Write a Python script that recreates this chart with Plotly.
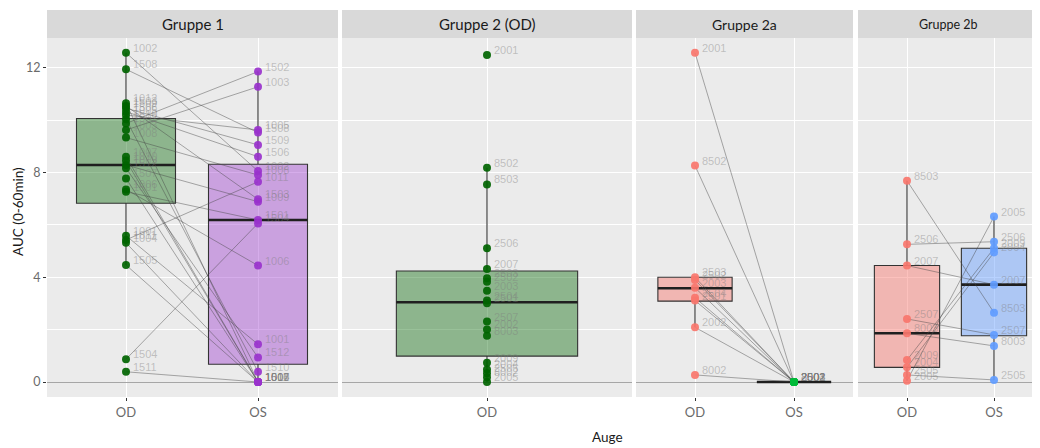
import plotly.graph_objects as go

# ---------------- data ----------------
panel_titles = ["Gruppe 1", "Gruppe 2 (OD)", "Gruppe 2a", "Gruppe 2b"]
eye_labels = ["OD", "OS"]
y_tick_values = [0, 4, 8, 12]
y_minor_values = [2, 6, 10]

# Gruppe 1: paired OD / OS values per subject
g1_ids = ["1002", "1508", "1012", "1503", "1509", "1506", "1005", "1510",
          "1502", "1003", "1008", "1007", "1010", "1009", "1512", "1507",
          "1006", "1501", "1001", "1011", "1004", "1505", "1504", "1511"]
g1_od = [12.58, 11.95, 10.65, 10.55, 10.46, 10.33, 10.20, 10.04,
         9.88, 9.63, 9.34, 8.61, 8.46, 8.29, 8.17, 7.78,
         7.36, 7.27, 5.59, 5.43, 5.32, 4.47, 0.87, 0.39]
g1_os = [8.06, 9.53, 0.00, 6.98, 9.06, 8.61, 9.63, 0.39,
         11.86, 11.28, 7.91, 0.00, 0.00, 6.89, 0.94, 0.00,
         4.45, 6.19, 1.44, 7.65, 0.00, 0.00, 6.06, 0.00]
# box statistics: q1, median, q3, lower whisker end, upper whisker end
g1_od_box = [6.83, 8.29, 10.07, 4.47, 12.58]
g1_os_box = [0.68, 6.19, 8.32, 0.00, 11.86]

# Gruppe 2 (OD only)
g2_ids = ["2001", "8502", "8503", "2506", "2007", "2503", "2502", "2003", "2504",
          "2501", "2507", "2002", "8003", "2009", "2004", "2505", "8002", "2005"]
g2_od = [12.50, 8.19, 7.55, 5.11, 4.32, 3.96, 3.83, 3.49, 3.11,
         3.01, 2.31, 2.01, 1.77, 0.74, 0.48, 0.33, 0.18, 0.00]
g2_od_box = [0.99, 3.05, 4.24, 0.00, 8.19]

# Gruppe 2a: paired OD / OS
g2a_ids = ["2001", "8502", "2503", "2502", "2003", "2504", "2501", "2002", "8002"]
g2a_od = [12.58, 8.27, 4.00, 3.90, 3.60, 3.22, 3.11, 2.09, 0.27]
g2a_os = [0.00, 0.00, 0.00, 0.00, 0.00, 0.00, 0.00, 0.00, 0.00]
g2a_od_box = [3.09, 3.58, 4.00, 2.09, 4.00]
g2a_os_box = [0.00, 0.00, 0.00, 0.00, 0.00]

# Gruppe 2b: paired OD / OS
g2b_ids = ["8503", "2506", "2007", "2507", "8003", "2009", "2004", "2505", "2005"]
g2b_od = [7.69, 5.26, 4.45, 2.41, 1.86, 0.84, 0.56, 0.27, 0.05]
g2b_os = [2.65, 5.36, 3.72, 1.80, 1.38, 5.11, 4.95, 0.08, 6.32]
g2b_od_box = [0.56, 1.86, 4.45, 0.05, 7.69]
g2b_os_box = [1.77, 3.72, 5.11, 0.08, 6.32]

# ---------------- styling / geometry ----------------
PAGE_OFFSET = 8                      # default body margin of the html page
W, H = 1040 - PAGE_OFFSET, 448 - PAGE_OFFSET


def fx(px):
    """screen x pixel -> paper fraction"""
    return (px - PAGE_OFFSET) / W


def fy(py):
    """screen y pixel (from top) -> paper fraction"""
    return (H - (py - PAGE_OFFSET)) / H


PANEL_PX = [(47, 338), (342, 632), (636, 853), (858, 1040)]
CAT0_PX = [126, 487, 695, 907]          # pixel of first category
PX_PER_CAT = [132, 241.7, 99, 87]       # pixels per category step
PLOT_TOP, PLOT_BOTTOM = 38, 397
STRIP_TOP = 10
Y0_PX, PX_PER_UNIT = 382, 26.17
BOX_W = 0.75

DKGREEN = "#006400"
ORCHID = "#9932CC"
RED = "#F8766D"
GREEN = "#00BA38"
BLUE = "#619CFF"

FONT = "Lato"
LABEL_FONT = "Liberation Sans"

y_range = [-(PLOT_BOTTOM - Y0_PX) / PX_PER_UNIT, (Y0_PX - PLOT_TOP) / PX_PER_UNIT]
y_domain = [fy(PLOT_BOTTOM), fy(PLOT_TOP)]

panels = [
    dict(groups=[(0, g1_ids, g1_od, g1_od_box, DKGREEN, "rgba(0,100,0,0.4)"),
                 (1, g1_ids, g1_os, g1_os_box, ORCHID, "rgba(153,50,204,0.4)")],
         pairs=(g1_od, g1_os), ncat=2, strip_size=15, title_center=None),
    dict(groups=[(0, g2_ids, g2_od, g2_od_box, DKGREEN, "rgba(0,100,0,0.4)")],
         pairs=None, ncat=1, strip_size=15, title_center=None),
    dict(groups=[(0, g2a_ids, g2a_od, g2a_od_box, RED, "rgba(248,118,109,0.45)"),
                 (1, g2a_ids, g2a_os, g2a_os_box, GREEN, "rgba(0,186,56,0.4)")],
         pairs=(g2a_od, g2a_os), ncat=2, strip_size=14, title_center=None),
    dict(groups=[(0, g2b_ids, g2b_od, g2b_od_box, RED, "rgba(248,118,109,0.45)"),
                 (1, g2b_ids, g2b_os, g2b_os_box, BLUE, "rgba(97,156,255,0.45)")],
         pairs=(g2b_od, g2b_os), ncat=2, strip_size=12.5, title_center=948),
]

fig = go.Figure()
annotations = []
shapes = []
layout_axes = {}


def axis_names(i):
    return ("x" if i == 1 else f"x{i}"), ("y" if i == 1 else f"y{i}")


# boxes first (drawn beneath scatter layers)
for i, p in enumerate(panels, start=1):
    xa, ya = axis_names(i)
    for cat, ids, vals, box, col, fill in p["groups"]:
        fig.add_trace(go.Box(
            x=[cat], q1=[box[0]], median=[box[1]], q3=[box[2]],
            lowerfence=[box[3]], upperfence=[box[4]],
            width=BOX_W, fillcolor=fill, whiskerwidth=0,
            line=dict(color="#333333", width=1.1),
            xaxis=xa, yaxis=ya, showlegend=False, hoverinfo="skip"))

for i, p in enumerate(panels, start=1):
    xa, ya = axis_names(i)
    # thick median lines
    for cat, ids, vals, box, col, fill in p["groups"]:
        fig.add_trace(go.Scatter(
            x=[cat - BOX_W / 2, cat + BOX_W / 2], y=[box[1], box[1]],
            mode="lines", line=dict(color="#1f1f1f", width=2.6),
            xaxis=xa, yaxis=ya, showlegend=False, hoverinfo="skip"))
    # paired lines
    if p["pairs"] is not None:
        od, os_ = p["pairs"]
        lx, ly = [], []
        for a, b in zip(od, os_):
            lx += [0, 1, None]
            ly += [a, b, None]
        fig.add_trace(go.Scatter(
            x=lx, y=ly, mode="lines",
            line=dict(color="rgba(70,70,70,0.5)", width=0.9),
            xaxis=xa, yaxis=ya, showlegend=False, hoverinfo="skip"))
    # points and labels
    for cat, ids, vals, box, col, fill in p["groups"]:
        fig.add_trace(go.Scatter(
            x=[cat] * len(vals), y=vals, mode="markers",
            marker=dict(color=col, size=8, opacity=0.92),
            xaxis=xa, yaxis=ya, showlegend=False, hoverinfo="skip"))
        for lab, v in zip(ids, vals):
            annotations.append(dict(
                x=cat, y=v, xref=xa, yref=ya, text=lab, showarrow=False,
                xanchor="left", yanchor="middle", xshift=5, yshift=5,
                font=dict(family=LABEL_FONT, size=11, color="rgba(125,125,125,0.42)")))

    # axes
    left, right = PANEL_PX[i - 1]
    c0, ppc = CAT0_PX[i - 1], PX_PER_CAT[i - 1]
    xr = [(left - c0) / ppc, (right - c0) / ppc]
    cats = list(range(p["ncat"]))
    layout_axes["xaxis" if i == 1 else f"xaxis{i}"] = dict(
        domain=[fx(left), fx(right)], range=xr, anchor=ya,
        tickvals=cats, ticktext=eye_labels[:p["ncat"]],
        showgrid=True, gridcolor="white", gridwidth=1.2, zeroline=False,
        ticks="outside", ticklen=3, tickcolor="#333333", tickwidth=1,
        tickfont=dict(family=FONT, size=13, color="#6b6b6b"),
        showline=False, fixedrange=True)
    layout_axes["yaxis" if i == 1 else f"yaxis{i}"] = dict(
        domain=y_domain, range=y_range, anchor=xa,
        tickvals=y_tick_values, showticklabels=(i == 1),
        ticks="outside" if i == 1 else "", ticklen=3, tickcolor="#333333", tickwidth=1,
        tickfont=dict(family=FONT, size=12.5, color="#6b6b6b"),
        showgrid=True, gridcolor="white", gridwidth=1.2,
        zeroline=True, zerolinecolor="#a6a6a6", zerolinewidth=1.2,
        minor=dict(tickvals=y_minor_values, showgrid=True, gridcolor="white",
                   gridwidth=0.6, ticks=""),
        showline=False, fixedrange=True)

    # facet strip
    shapes.append(dict(type="rect", xref="paper", yref="paper",
                       x0=fx(left), x1=fx(right),
                       y0=fy(PLOT_TOP), y1=fy(STRIP_TOP),
                       fillcolor="#D9D9D9", line=dict(width=0), layer="below"))
    tc = p["title_center"] if p["title_center"] is not None else (left + right) / 2
    annotations.append(dict(
        x=fx(tc), y=fy((PLOT_TOP + STRIP_TOP) / 2),
        xref="paper", yref="paper", text=panel_titles[i - 1], showarrow=False,
        xanchor="center", yanchor="middle",
        font=dict(family=FONT, size=p["strip_size"], color="#1a1a1a")))

# axis titles
annotations.append(dict(x=fx(18), y=fy(212), xref="paper", yref="paper",
                        text="AUC (0-60min)", textangle=-90, showarrow=False,
                        xanchor="center", yanchor="middle",
                        font=dict(family=FONT, size=13.5, color="#1a1a1a")))
annotations.append(dict(x=fx(607), y=fy(437), xref="paper", yref="paper",
                        text="Auge", showarrow=False,
                        xanchor="center", yanchor="middle",
                        font=dict(family=FONT, size=13.5, color="#1a1a1a")))

fig.update_layout(
    width=W, height=H, autosize=False,
    margin=dict(l=0, r=0, t=0, b=0, pad=0),
    paper_bgcolor="white", plot_bgcolor="#EBEBEB",
    showlegend=False, boxmode="overlay",
    annotations=annotations, shapes=shapes,
    **layout_axes)

fig.write_html("out.html")
